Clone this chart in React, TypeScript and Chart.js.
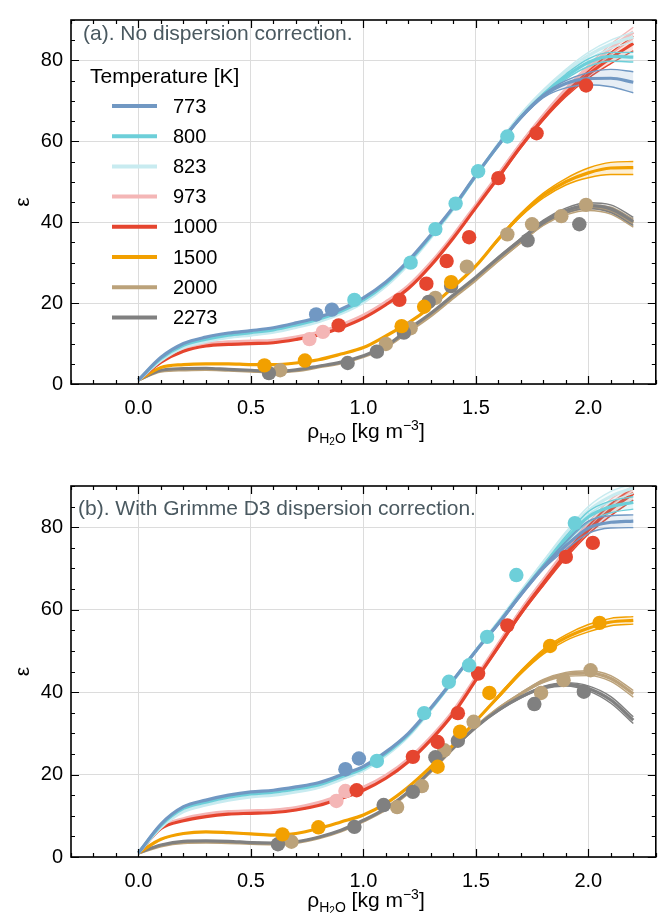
import React, { useEffect, useRef } from 'react';
import { Chart, registerables } from 'chart.js';
Chart.register(...registerables);

const FONT = '"Liberation Sans", Arial, Helvetica, sans-serif';

const TEMPS = ['773', '800', '823', '973', '1000', '1500', '2000', '2273'];
const COLORS = ['#7198c3', '#6dcfd9', '#c8ebf0', '#f4b6b6', '#e5452f', '#f2a000', '#bba27a', '#808080'];
// drawing layer (lower = on top)
const LAYER = [1, 2, 3, 5, 4, 6, 8, 7];

const X_TICKS = [0.0, 0.5, 1.0, 1.5, 2.0];
const Y_TICKS = [0, 20, 40, 60, 80];

const RHO = [0.0, 0.1, 0.2, 0.3, 0.4, 0.5, 0.6, 0.7, 0.8, 0.9, 1.0, 1.1, 1.2, 1.3, 1.4, 1.5, 1.6, 1.7, 1.8, 1.9, 2.0, 2.1, 2.2];
const TAIL_RHO = [1.6, 1.7, 1.8, 1.9, 2.0, 2.1, 2.2];

// ---------- Panel (a): no dispersion correction ----------
const A_773 = [1.0, 6.6, 10.0, 11.6, 12.6, 13.2, 13.9, 15.1, 16.5, 18.5, 21.3, 25.2, 30.5, 36.9, 43.8, 51.6, 59.0, 65.9, 71.2, 74.3, 75.5, 75.6, 74.6];
const A_773_LO = [59.0, 65.6, 70.8, 73.2, 74.0, 73.5, 72.0];
const A_773_HI = [59.4, 66.2, 71.6, 75.0, 77.0, 77.8, 77.2];
const A_800 = [1.0, 6.3, 9.6, 11.1, 12.1, 12.7, 13.4, 14.6, 16.0, 18.0, 20.8, 24.8, 30.1, 36.6, 43.6, 51.5, 59.0, 66.0, 71.5, 76.0, 79.5, 81.0, 80.8];
const A_800_LO = [58.8, 65.7, 71.2, 75.4, 78.5, 79.8, 79.6];
const A_800_HI = [59.3, 66.3, 71.9, 76.6, 80.4, 82.0, 82.0];
const A_823 = [1.0, 5.8, 9.0, 10.5, 11.5, 12.1, 12.8, 14.0, 15.4, 17.4, 20.2, 24.2, 29.6, 36.2, 43.4, 51.5, 59.3, 66.5, 72.3, 77.2, 81.2, 84.0, 85.8];
const A_823_LO = [59.0, 66.1, 71.8, 76.6, 80.4, 83.0, 84.6];
const A_823_HI = [59.6, 66.9, 72.8, 77.8, 82.0, 85.0, 87.0];
const A_973 = [1.0, 5.6, 8.5, 9.9, 10.4, 10.6, 10.8, 11.6, 12.8, 14.6, 17.0, 20.3, 24.3, 30.0, 36.8, 44.3, 51.8, 59.4, 66.4, 72.6, 78.0, 83.0, 87.0];
const A_973_LO = [51.5, 59.0, 66.0, 72.0, 77.0, 81.5, 85.5];
const A_973_HI = [52.1, 59.8, 66.8, 73.2, 78.8, 84.0, 88.2];
const A_1000 = [1.0, 5.4, 8.1, 9.4, 9.8, 10.0, 10.2, 11.0, 12.1, 13.9, 16.3, 19.6, 23.6, 29.3, 36.1, 43.6, 51.1, 58.7, 65.6, 71.6, 76.5, 80.6, 84.2];
const A_1000_LO = [50.8, 58.4, 65.2, 71.0, 75.6, 79.2, 82.4];
const A_1000_HI = [51.4, 59.0, 66.0, 72.2, 77.4, 82.0, 86.0];
const A_1500 = [1.0, 4.1, 4.8, 5.0, 5.0, 4.8, 4.8, 5.2, 6.0, 7.4, 9.0, 11.9, 15.1, 19.1, 24.0, 29.2, 35.8, 41.8, 46.6, 50.0, 52.2, 53.4, 53.5];
const A_1500_LO = [35.5, 41.4, 46.0, 49.2, 51.0, 51.8, 51.8];
const A_1500_HI = [36.1, 42.2, 47.2, 50.8, 53.4, 54.8, 55.0];
const A_2000 = [1.0, 3.2, 3.5, 3.6, 3.4, 3.2, 3.0, 3.3, 4.2, 5.2, 6.8, 9.2, 13.0, 16.9, 21.4, 25.8, 30.6, 35.2, 39.6, 42.4, 43.6, 42.8, 39.8];
const A_2000_LO = [30.4, 34.9, 39.2, 41.8, 42.9, 42.0, 38.8];
const A_2000_HI = [30.8, 35.5, 40.0, 43.0, 44.3, 43.7, 40.8];
const A_2273 = [1.0, 3.4, 3.8, 3.9, 3.6, 3.4, 3.1, 3.5, 4.4, 5.4, 7.0, 9.4, 13.5, 17.5, 22.0, 26.4, 31.2, 35.7, 40.1, 42.9, 44.1, 43.3, 40.2];
const A_2273_LO = [31.0, 35.4, 39.6, 42.3, 43.4, 42.4, 39.2];
const A_2273_HI = [31.4, 36.0, 40.5, 43.5, 44.8, 44.3, 41.2];

const A_PTS_773 = [[0.79, 17.2], [0.86, 18.4]];
const A_PTS_800 = [[0.96, 20.8], [1.21, 30.0], [1.32, 38.3], [1.41, 44.6], [1.51, 52.6], [1.64, 61.2]];
const A_PTS_823: number[][] = [];
const A_PTS_973 = [[0.76, 11.1], [0.82, 12.9]];
const A_PTS_1000 = [[0.89, 14.5], [1.16, 20.8], [1.28, 24.8], [1.37, 30.4], [1.47, 36.3], [1.60, 50.9], [1.77, 62.0], [1.99, 73.8]];
const A_PTS_1500 = [[0.56, 4.6], [0.74, 5.8], [1.17, 14.3], [1.27, 19.1], [1.39, 25.2]];
const A_PTS_2000 = [[0.63, 3.4], [1.10, 9.9], [1.21, 13.8], [1.32, 21.3], [1.46, 29.0], [1.64, 37.0], [1.75, 39.5], [1.88, 41.5], [1.99, 44.3]];
const A_PTS_2273 = [[0.58, 2.7], [0.93, 5.2], [1.06, 8.0], [1.18, 12.7], [1.29, 20.3], [1.39, 24.2], [1.73, 35.5], [1.96, 39.5]];

// ---------- Panel (b): with Grimme D3 dispersion correction ----------
const B_773 = [1.0, 8.0, 12.2, 13.8, 15.0, 15.8, 16.2, 17.0, 18.0, 19.9, 22.0, 25.5, 30.0, 36.2, 43.0, 50.0, 56.6, 63.6, 70.2, 75.5, 79.8, 81.2, 81.5];
const B_773_LO = [56.3, 63.3, 69.8, 74.6, 78.5, 79.8, 79.9];
const B_773_HI = [56.9, 64.0, 70.6, 76.5, 81.5, 82.8, 83.0];
const B_800 = [1.0, 7.7, 11.8, 13.3, 14.5, 15.3, 15.7, 16.5, 17.5, 19.4, 21.5, 25.1, 29.7, 36.0, 42.9, 50.0, 56.7, 63.8, 70.6, 77.0, 82.5, 85.0, 86.0];
const B_800_LO = [56.4, 63.5, 70.2, 76.2, 81.2, 83.5, 84.4];
const B_800_HI = [57.0, 64.2, 71.0, 77.8, 83.8, 86.4, 87.4];
const B_823 = [1.0, 7.2, 11.0, 12.6, 13.8, 14.6, 15.0, 15.8, 16.9, 18.8, 21.0, 24.6, 29.3, 35.8, 42.8, 50.1, 57.0, 64.3, 71.4, 78.2, 84.0, 87.5, 89.5];
const B_823_LO = [56.7, 63.9, 70.9, 77.5, 83.0, 86.3, 88.2];
const B_823_HI = [57.3, 64.7, 71.9, 78.9, 85.0, 88.7, 90.5];
const B_973 = [1.0, 7.2, 9.3, 10.4, 11.0, 11.2, 11.4, 12.0, 13.2, 14.9, 16.9, 19.8, 23.8, 29.1, 35.5, 43.6, 51.7, 59.8, 67.1, 74.1, 80.3, 85.6, 89.6];
const B_973_LO = [51.4, 59.4, 66.6, 73.4, 79.4, 84.4, 88.4];
const B_973_HI = [52.0, 60.2, 67.6, 74.8, 81.2, 86.8, 90.0];
const B_1000 = [1.0, 6.9, 8.8, 9.8, 10.4, 10.6, 10.8, 11.4, 12.5, 14.2, 16.2, 19.1, 23.1, 28.4, 34.8, 42.9, 51.0, 59.1, 66.3, 73.2, 79.3, 84.3, 88.2];
const B_1000_LO = [50.7, 58.7, 65.8, 72.5, 78.3, 82.8, 86.6];
const B_1000_HI = [51.3, 59.5, 66.8, 73.9, 80.3, 85.6, 89.6];
const B_1500 = [1.0, 4.3, 5.7, 6.1, 5.9, 5.6, 5.3, 5.7, 6.9, 8.5, 10.2, 13.0, 17.0, 21.9, 27.2, 33.0, 38.9, 44.8, 49.8, 53.2, 55.5, 57.0, 57.4];
const B_1500_LO = [38.6, 44.4, 49.2, 52.5, 54.6, 56.1, 56.5];
const B_1500_HI = [39.2, 45.2, 50.4, 53.9, 56.4, 57.9, 58.3];
const B_2000 = [1.0, 2.7, 3.5, 3.6, 3.5, 3.3, 3.2, 3.5, 4.6, 6.3, 8.7, 11.6, 15.6, 20.8, 26.4, 31.6, 36.0, 39.6, 42.7, 44.3, 44.6, 43.3, 39.6];
const B_2000_LO = [35.8, 39.4, 42.3, 43.8, 44.0, 42.6, 38.8];
const B_2000_HI = [36.2, 39.8, 43.1, 44.8, 45.2, 44.0, 40.4];
const B_2273 = [1.0, 2.9, 3.8, 3.9, 3.8, 3.5, 3.4, 3.7, 4.8, 6.5, 8.9, 11.8, 15.8, 21.0, 26.5, 31.5, 35.6, 38.8, 41.1, 41.9, 40.9, 38.1, 33.2];
const B_2273_LO = [35.4, 38.6, 40.8, 41.5, 40.3, 37.3, 32.4];
const B_2273_HI = [35.8, 39.0, 41.4, 42.3, 41.5, 38.9, 34.0];

const B_PTS_773 = [[0.92, 21.3], [0.98, 23.9]];
const B_PTS_800 = [[1.06, 23.3], [1.27, 34.9], [1.38, 42.5], [1.47, 46.5], [1.55, 53.4], [1.68, 68.4], [1.94, 81.0]];
const B_PTS_823: number[][] = [];
const B_PTS_973 = [[0.88, 13.6], [0.92, 16.0]];
const B_PTS_1000 = [[0.97, 16.2], [1.22, 24.3], [1.33, 27.9], [1.42, 34.9], [1.51, 44.5], [1.64, 56.2], [1.90, 72.8], [2.02, 76.2]];
const B_PTS_1500 = [[0.64, 5.5], [0.80, 7.2], [1.33, 21.9], [1.43, 30.4], [1.56, 39.8], [1.83, 51.2], [2.05, 56.8]];
const B_PTS_2000 = [[0.68, 3.7], [1.15, 12.1], [1.26, 17.2], [1.36, 25.9], [1.49, 32.8], [1.79, 39.8], [1.89, 42.9], [2.01, 45.3]];
const B_PTS_2273 = [[0.62, 3.1], [0.96, 7.3], [1.09, 12.6], [1.22, 15.8], [1.32, 24.2], [1.42, 28.2], [1.76, 37.1], [1.98, 40.1]];

type Curve = { mid: number[]; lo: number[]; hi: number[] };

const CURVES_A: Curve[] = [
  { mid: A_773, lo: A_773_LO, hi: A_773_HI },
  { mid: A_800, lo: A_800_LO, hi: A_800_HI },
  { mid: A_823, lo: A_823_LO, hi: A_823_HI },
  { mid: A_973, lo: A_973_LO, hi: A_973_HI },
  { mid: A_1000, lo: A_1000_LO, hi: A_1000_HI },
  { mid: A_1500, lo: A_1500_LO, hi: A_1500_HI },
  { mid: A_2000, lo: A_2000_LO, hi: A_2000_HI },
  { mid: A_2273, lo: A_2273_LO, hi: A_2273_HI },
];
const POINTS_A = [A_PTS_773, A_PTS_800, A_PTS_823, A_PTS_973, A_PTS_1000, A_PTS_1500, A_PTS_2000, A_PTS_2273];

const CURVES_B: Curve[] = [
  { mid: B_773, lo: B_773_LO, hi: B_773_HI },
  { mid: B_800, lo: B_800_LO, hi: B_800_HI },
  { mid: B_823, lo: B_823_LO, hi: B_823_HI },
  { mid: B_973, lo: B_973_LO, hi: B_973_HI },
  { mid: B_1000, lo: B_1000_LO, hi: B_1000_HI },
  { mid: B_1500, lo: B_1500_LO, hi: B_1500_HI },
  { mid: B_2000, lo: B_2000_LO, hi: B_2000_HI },
  { mid: B_2273, lo: B_2273_LO, hi: B_2273_HI },
];
const POINTS_B = [B_PTS_773, B_PTS_800, B_PTS_823, B_PTS_973, B_PTS_1000, B_PTS_1500, B_PTS_2000, B_PTS_2273];

function rgba(hex: string, a: number) {
  const n = parseInt(hex.slice(1), 16);
  return `rgba(${(n >> 16) & 255},${(n >> 8) & 255},${n & 255},${a})`;
}

function makeDatasets(curves: Curve[], pts: number[][][]) {
  const ds: any[] = [];
  TEMPS.forEach((_, i) => {
    const c = curves[i];
    const pick = (arr: number[]) =>
      RHO.map((x, k) => {
        const j = TAIL_RHO.indexOf(x);
        return j >= 0 ? arr[j] : c.mid[k];
      });
    const lo = pick(c.lo);
    const hi = pick(c.hi);
    const base = {
      pointRadius: 0,
      pointHoverRadius: 0,
      cubicInterpolationMode: 'monotone',
      borderColor: COLORS[i],
      order: 20 + LAYER[i],
    };
    ds.push({ ...base, data: RHO.map((x, k) => ({ x, y: lo[k] })), borderWidth: 1.4, fill: '+1', backgroundColor: rgba(COLORS[i], 0.17) });
    ds.push({ ...base, data: RHO.map((x, k) => ({ x, y: hi[k] })), borderWidth: 1.4, fill: false });
    ds.push({ ...base, data: RHO.map((x, k) => ({ x, y: c.mid[k] })), borderWidth: 3.2, fill: false });
  });
  TEMPS.forEach((_, i) => {
    ds.push({
      data: pts[i].map(([x, y]) => ({ x, y })),
      showLine: false,
      pointRadius: 7.2,
      pointHoverRadius: 7.2,
      pointBorderWidth: 0,
      pointBackgroundColor: COLORS[i],
      borderColor: COLORS[i],
      backgroundColor: COLORS[i],
      order: LAYER[i],
    });
  });
  return ds;
}

type PanelCfg = {
  title: string;
  titleX: number;
  titleBaseline: number;
  legend: boolean;
  xTitleBaseline: number;
};

function drawXTitle(ctx: CanvasRenderingContext2D, cx: number, baseline: number) {
  const parts = [
    { t: 'ρ', size: 21, dy: 0 },
    { t: 'H', size: 14, dy: 5 },
    { t: '2', size: 10, dy: 7 },
    { t: 'O', size: 14, dy: 5 },
    { t: ' [kg m', size: 21, dy: 0 },
    { t: '−3', size: 14, dy: -8 },
    { t: ']', size: 21, dy: 0 },
  ];
  let total = 0;
  const widths = parts.map((p) => {
    ctx.font = `${p.size}px ${FONT}`;
    const w = ctx.measureText(p.t).width;
    total += w;
    return w;
  });
  let x = cx - total / 2;
  ctx.fillStyle = '#000';
  ctx.textAlign = 'left';
  ctx.textBaseline = 'alphabetic';
  parts.forEach((p, i) => {
    ctx.font = `${p.size}px ${FONT}`;
    ctx.fillText(p.t, x, baseline + p.dy);
    x += widths[i];
  });
}

function makePlugin(cfg: PanelCfg) {
  return {
    id: 'frame',
    afterDatasetsDraw(chart: any) {
      const { ctx, chartArea } = chart;
      const { left, right, top, bottom } = chartArea;
      const xs = chart.scales.x;
      const ys = chart.scales.y;
      ctx.save();
      ctx.strokeStyle = '#000';
      ctx.lineWidth = 1.2;
      for (let k = -3; k <= 23; k++) {
        const px = Math.round(xs.getPixelForValue(k / 10)) + 0.5;
        const len = k % 5 === 0 ? 8 : 4;
        ctx.beginPath();
        ctx.moveTo(px, bottom);
        ctx.lineTo(px, bottom - len);
        ctx.moveTo(px, top);
        ctx.lineTo(px, top + len);
        ctx.stroke();
      }
      for (let k = 0; k <= 18; k++) {
        const py = Math.round(ys.getPixelForValue(k * 5)) + 0.5;
        const len = k % 4 === 0 ? 8 : 4;
        ctx.beginPath();
        ctx.moveTo(left, py);
        ctx.lineTo(left + len, py);
        ctx.moveTo(right, py);
        ctx.lineTo(right - len, py);
        ctx.stroke();
      }
      ctx.lineWidth = 1.6;
      ctx.strokeRect(left, top, right - left, bottom - top);
      ctx.restore();
    },
    afterDraw(chart: any) {
      const { ctx, chartArea } = chart;
      const { left, top, bottom } = chartArea;
      ctx.save();
      // panel title
      ctx.font = `21px ${FONT}`;
      ctx.fillStyle = '#4a5960';
      ctx.textAlign = 'left';
      ctx.textBaseline = 'alphabetic';
      ctx.fillText(cfg.title, cfg.titleX, cfg.titleBaseline);
      // y title
      ctx.save();
      ctx.translate(23, (top + bottom) / 2);
      ctx.rotate(-Math.PI / 2);
      ctx.font = `21px ${FONT}`;
      ctx.fillStyle = '#000';
      ctx.textAlign = 'center';
      ctx.textBaseline = 'middle';
      ctx.fillText('ε', 0, 0);
      ctx.restore();
      // x title
      drawXTitle(ctx, (left + 663) / 2 - 1, cfg.xTitleBaseline);
      // legend
      if (cfg.legend) {
        ctx.font = `21px ${FONT}`;
        ctx.fillStyle = '#000';
        ctx.textAlign = 'left';
        ctx.textBaseline = 'alphabetic';
        ctx.fillText('Temperature [K]', 90, 83);
        TEMPS.forEach((t, i) => {
          const cy = 106 + i * 30.2;
          ctx.strokeStyle = COLORS[i];
          ctx.lineWidth = 4;
          ctx.beginPath();
          ctx.moveTo(112, cy);
          ctx.lineTo(157, cy);
          ctx.stroke();
          ctx.font = `20px ${FONT}`;
          ctx.fillStyle = '#000';
          ctx.textBaseline = 'middle';
          ctx.fillText(t, 173, cy + 1);
        });
      }
      ctx.restore();
    },
  };
}

function Panel(props: { curves: Curve[]; points: number[][][]; cfg: PanelCfg; height: number; padTop: number; xAxisH: number; top: number }) {
  const ref = useRef<HTMLCanvasElement>(null);
  useEffect(() => {
    if (!ref.current) return;
    const chart = new Chart(ref.current, {
      type: 'line',
      data: { datasets: makeDatasets(props.curves, props.points) },
      options: {
        animation: false,
        responsive: false,
        devicePixelRatio: 1,
        layout: { padding: { top: props.padTop, left: 0, right: 0, bottom: 0 } },
        plugins: { legend: { display: false }, tooltip: { enabled: false } },
        events: [],
        scales: {
          x: {
            type: 'linear',
            min: -0.3,
            max: 2.3,
            afterBuildTicks: (s: any) => {
              s.ticks = X_TICKS.map((v) => ({ value: v }));
            },
            afterFit: (s: any) => {
              s.height = props.xAxisH;
            },
            grid: { color: '#dcdcdc', lineWidth: 1, drawTicks: false },
            border: { display: false },
            ticks: {
              font: { family: FONT, size: 20 },
              color: '#000',
              padding: 12,
              maxRotation: 0,
              autoSkip: false,
              callback: (v: any) => Number(v).toFixed(1),
            },
          },
          y: {
            type: 'linear',
            min: 0,
            max: 90,
            afterBuildTicks: (s: any) => {
              s.ticks = Y_TICKS.map((v) => ({ value: v }));
            },
            afterFit: (s: any) => {
              s.width = 71;
            },
            grid: { color: '#dcdcdc', lineWidth: 1, drawTicks: false },
            border: { display: false },
            ticks: {
              font: { family: FONT, size: 20 },
              color: '#000',
              padding: 8,
              autoSkip: false,
              callback: (v: any) => String(v),
            },
          },
        },
      } as any,
      plugins: [makePlugin(props.cfg) as any],
    });
    return () => chart.destroy();
  }, []);
  return (
    <canvas
      ref={ref}
      width={663}
      height={props.height}
      style={{ position: 'absolute', left: 0, top: props.top, width: 663, height: props.height, display: 'block' }}
    />
  );
}

export default function App() {
  return (
    <div style={{ position: 'absolute', left: 0, top: 0, width: 659, height: 913, overflow: 'hidden', background: '#fff' }}>
      <Panel
        curves={CURVES_A}
        points={POINTS_A}
        top={0}
        height={456}
        padTop={13}
        xAxisH={72}
        cfg={{ title: '(a). No dispersion correction.', titleX: 83, titleBaseline: 40, legend: true, xTitleBaseline: 438 }}
      />
      <Panel
        curves={CURVES_B}
        points={POINTS_B}
        top={456}
        height={457}
        padTop={30}
        xAxisH={56}
        cfg={{ title: '(b). With Grimme D3 dispersion correction.', titleX: 78, titleBaseline: 59, legend: false, xTitleBaseline: 451 }}
      />
    </div>
  );
}
